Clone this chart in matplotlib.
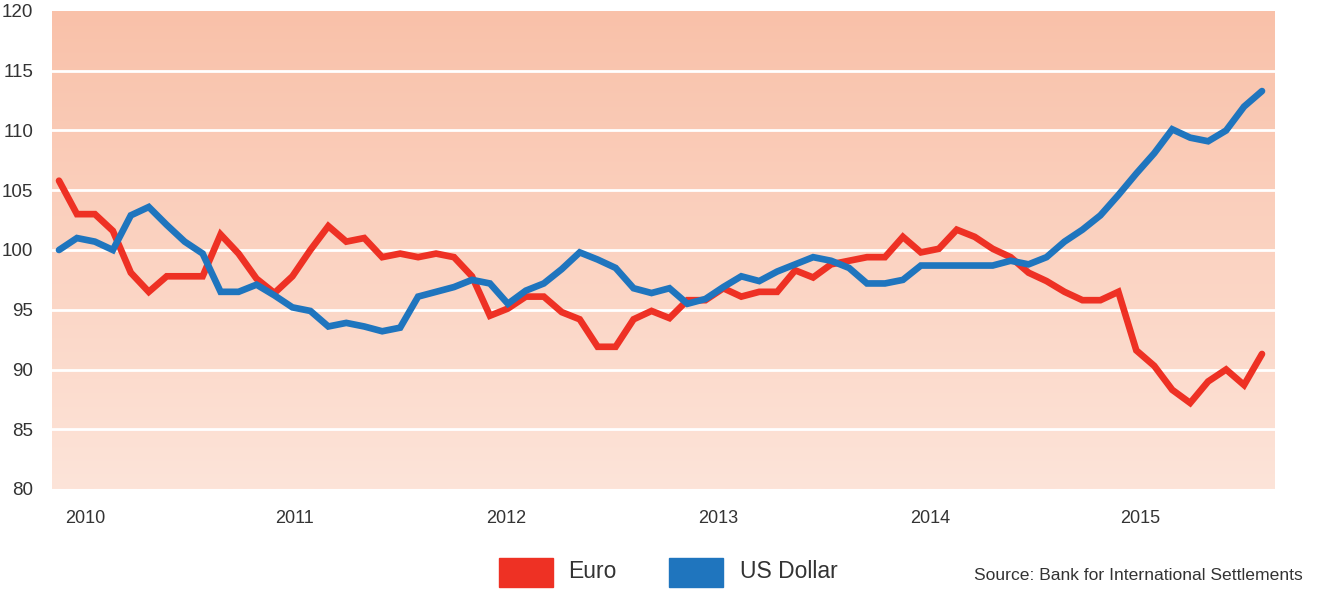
import numpy as np
import matplotlib
matplotlib.use("Agg")
import matplotlib.pyplot as plt
from matplotlib.colors import LinearSegmentedColormap
from matplotlib.patches import Rectangle

euro = [105.8, 103.0, 103.0, 101.6, 98.1, 96.5, 97.8, 97.8, 97.8, 101.3,
        99.7, 97.6, 96.4, 97.8, 100.0, 102.0, 100.7, 101.0, 99.4, 99.7,
        99.4, 99.7, 99.4, 97.8, 94.5, 95.1, 96.1, 96.1, 94.8, 94.2,
        91.9, 91.9, 94.2, 94.9, 94.3, 95.8, 95.8, 96.8, 96.1, 96.5,
        96.5, 98.3, 97.7, 98.8, 99.1, 99.4, 99.4, 101.1, 99.8, 100.1,
        101.7, 101.1, 100.1, 99.4, 98.1, 97.4, 96.5, 95.8, 95.8, 96.5,
        91.6, 90.3, 88.3, 87.2, 89.0, 90.0, 88.7, 91.3]
usd = [100.0, 101.0, 100.7, 100.0, 102.9, 103.6, 102.1, 100.7, 99.7, 96.5,
       96.5, 97.1, 96.2, 95.2, 94.9, 93.6, 93.9, 93.6, 93.2, 93.5,
       96.1, 96.5, 96.9, 97.5, 97.2, 95.5, 96.6, 97.2, 98.4, 99.8,
       99.2, 98.5, 96.8, 96.4, 96.8, 95.5, 95.9, 96.9, 97.8, 97.4,
       98.2, 98.8, 99.4, 99.1, 98.5, 97.2, 97.2, 97.5, 98.7, 98.7,
       98.7, 98.7, 98.7, 99.1, 98.8, 99.4, 100.7, 101.7, 102.9, 104.6,
       106.4, 108.1, 110.1, 109.4, 109.1, 110.0, 112.0, 113.3]
year_labels = ["2010", "2011", "2012", "2013", "2014", "2015"]
year_pos = [1.45, 13.14, 24.89, 36.69, 48.5, 60.24]
y_ticks = [80, 85, 90, 95, 100, 105, 110, 115, 120]
series_names = ["Euro", "US Dollar"]

RED = "#EE3124"
BLUE = "#1F75BE"
TXT = "#333333"

plt.rcParams['font.family'] = ['Liberation Sans', 'DejaVu Sans']

W, H = 1318, 589
fig = plt.figure(figsize=(W / 100, H / 100), dpi=100)
ax = fig.add_axes([52 / W, 1 - 489 / H, (1275 - 52) / W, (489 - 11) / H])

x = np.arange(len(euro))
ax.set_xlim(-7 / 17.96, len(euro) - 1 + 13 / 17.96)
ax.set_ylim(80, 120)

cmap = LinearSegmentedColormap.from_list("bg", ["#FDE4D9", "#F9C1A9"])
grad = np.linspace(0, 1, 256).reshape(-1, 1)
ax.imshow(grad, cmap=cmap, aspect="auto", origin="lower",
          extent=[ax.get_xlim()[0], ax.get_xlim()[1], 80, 120], zorder=0)

for yv in y_ticks[1:-1]:
    ax.axhline(yv, color="white", lw=2.0, zorder=1)

ax.plot(x, euro, color=RED, lw=4.8, solid_joinstyle="miter", solid_capstyle="round", zorder=3)
ax.plot(x, usd, color=BLUE, lw=4.8, solid_joinstyle="miter", solid_capstyle="round", zorder=4)

for s in ax.spines.values():
    s.set_visible(False)
ax.set_yticks(y_ticks)
ax.set_yticklabels([str(v) for v in y_ticks], fontsize=13.5, color=TXT)
ax.set_xticks(year_pos)
ax.set_xticklabels(year_labels, fontsize=13, color=TXT)
ax.tick_params(axis="y", length=0, pad=13.5)
ax.tick_params(axis="x", length=0, pad=15)

# legend
fig.patches.append(Rectangle((499 / W, 1 - 587 / H), 54 / W, 29 / H,
                             transform=fig.transFigure, color=RED, figure=fig))
fig.text(568 / W, 1 - 572 / H, series_names[0], fontsize=16.5, color=TXT, va="center", ha="left")
fig.patches.append(Rectangle((669 / W, 1 - 587 / H), 54 / W, 29 / H,
                             transform=fig.transFigure, color=BLUE, figure=fig))
fig.text(740 / W, 1 - 572 / H, series_names[1], fontsize=16.5, color=TXT, va="center", ha="left")

fig.text(1303 / W, 1 - 576 / H, "Source: Bank for International Settlements",
         fontsize=12.6, color=TXT, va="center", ha="right")

fig.savefig("out.png", dpi=100)
